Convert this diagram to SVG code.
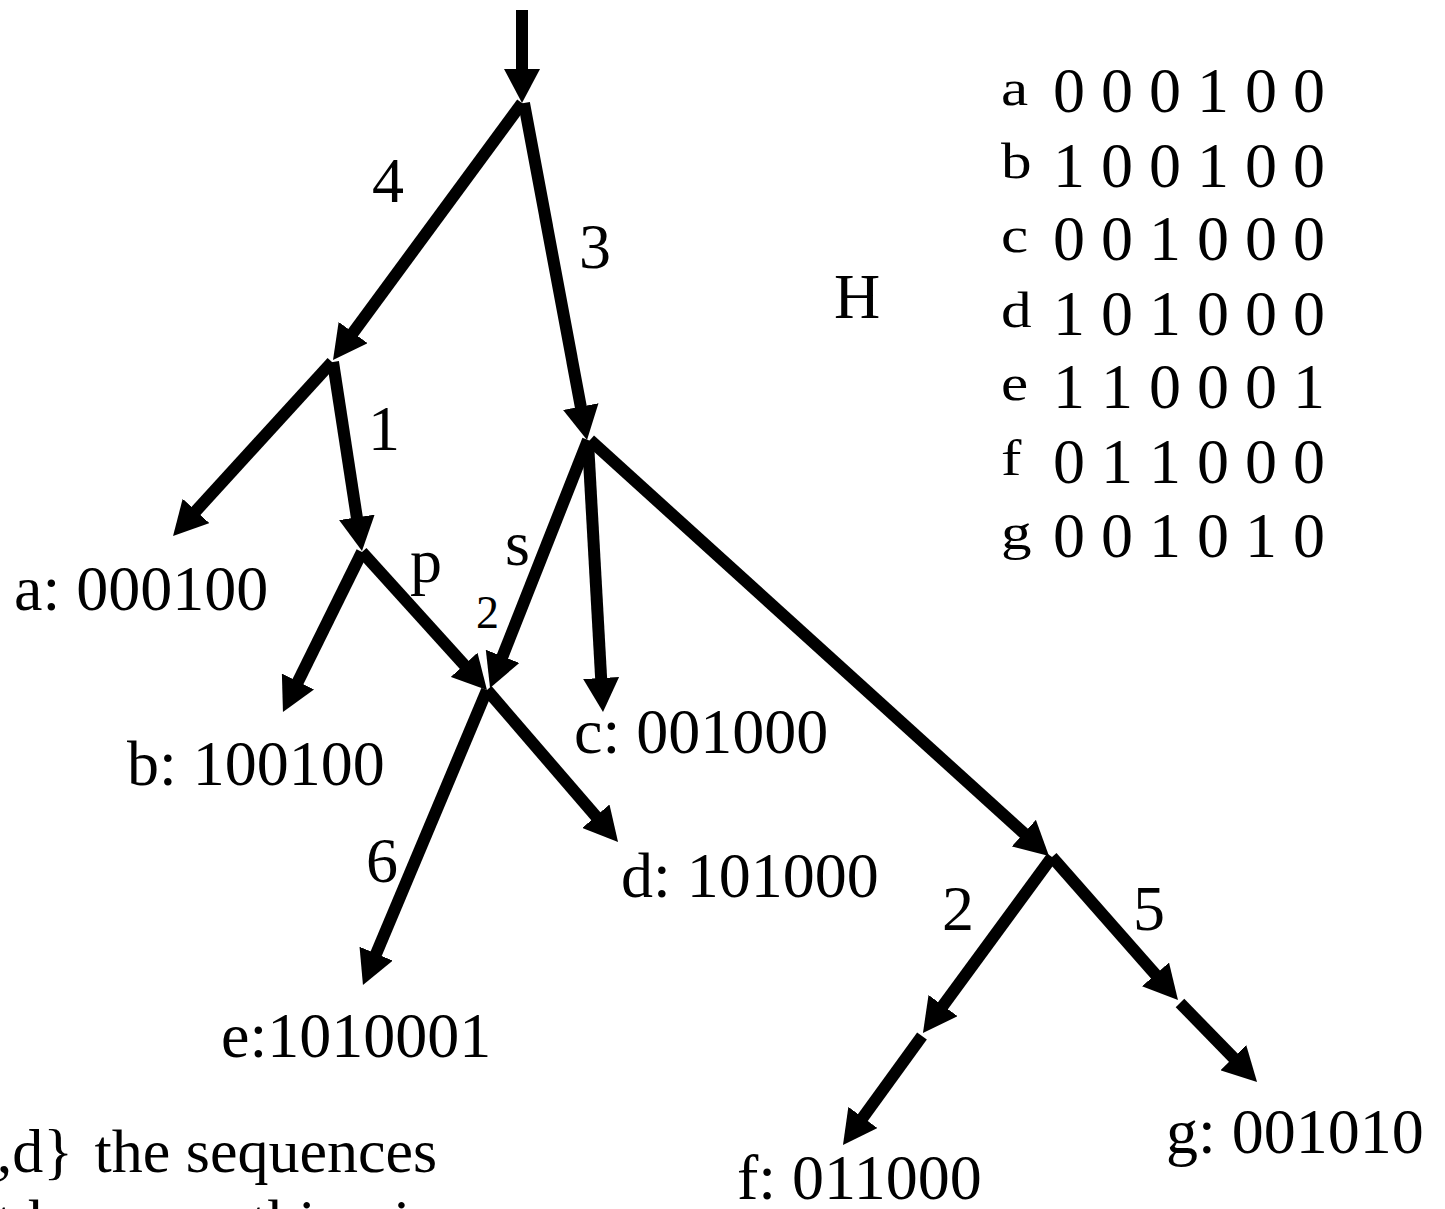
<svg xmlns="http://www.w3.org/2000/svg" width="1445" height="1209" viewBox="0 0 1445 1209">
<style>
text{font-family:"Liberation Serif","Times New Roman",serif;fill:#000}
.lbl{font-size:64px}
.sm{font-size:46px}
.let{font-size:51px}
.edge{stroke:#000;stroke-width:12;fill:none;stroke-linecap:butt;marker-end:url(#ah)}
</style>
<defs>
<marker id="ah" markerUnits="userSpaceOnUse" markerWidth="34" markerHeight="36" viewBox="0 0 34 36" refX="5" refY="18" orient="auto"><path d="M0,0 L34,18 L0,36 z" fill="#000"/></marker>
</defs>
<rect width="1445" height="1209" fill="#fff"/>
<g id="connectors">
<path class="edge" d="M522,10 L522,74"/>
<path class="edge" d="M522,103 L350.2,336.6"/>
<path class="edge" d="M524,103 L581.7,411.5"/>
<path class="edge" d="M332,362 L192.6,514.6"/>
<path class="edge" d="M333,362 L357.6,522.3"/>
<path class="edge" d="M362,552 L295.8,686"/>
<path class="edge" d="M362,552 L467.5,668.5"/>
<path class="edge" d="M487,690 L599.1,820"/>
<path class="edge" d="M487,690 L374.2,958.3"/>
<path class="edge" d="M588,440 L500.7,661"/>
<path class="edge" d="M588,442 L601.4,683"/>
<path class="edge" d="M590,440 L1027.5,836.5"/>
<path class="edge" d="M1052,857 L940.1,1009.6"/>
<path class="edge" d="M922,1036 L860,1121.5"/>
<path class="edge" d="M1052,857 L1158.8,978.2"/>
<path class="edge" d="M1180,1003 L1236.8,1061.2"/>
</g>
<g id="edge-labels">
<text class="lbl" x="372" y="202">4</text>
<text class="lbl" x="579" y="268">3</text>
<text class="lbl" x="368" y="450">1</text>
<text class="lbl" x="410" y="582">p</text>
<text class="lbl" x="505" y="565">s</text>
<text class="sm" x="476" y="628">2</text>
<text class="lbl" x="366" y="882">6</text>
<text class="lbl" x="942" y="930">2</text>
<text class="lbl" x="1133" y="930">5</text>
</g>
<g id="node-a"><text class="lbl" x="14" y="610">a: 000100</text></g>
<g id="node-b"><text class="lbl" x="127" y="785">b: 100100</text></g>
<g id="node-c"><text class="lbl" x="574" y="753">c: 001000</text></g>
<g id="node-d"><text class="lbl" x="621" y="897">d: 101000</text></g>
<g id="node-e"><text class="lbl" x="221" y="1057">e:1010001</text></g>
<g id="node-f"><text class="lbl" x="737" y="1199">f: 011000</text></g>
<g id="node-g"><text class="lbl" x="1166" y="1153">g: 001010</text></g>
<g id="matrix">
<text class="lbl" x="834" y="318">H</text>
<text class="let" transform="translate(1001,105) scale(1.2,1)">a</text>
<text class="let" transform="translate(1001,178) scale(1.2,1)">b</text>
<text class="let" transform="translate(1001,252) scale(1.2,1)">c</text>
<text class="let" transform="translate(1001,327) scale(1.2,1)">d</text>
<text class="let" transform="translate(1001,400) scale(1.2,1)">e</text>
<text class="let" transform="translate(1001,475) scale(1.2,1)">f</text>
<text class="let" transform="translate(1001,549) scale(1.2,1)">g</text>
<text class="lbl" x="1053" y="112">0 0 0 1 0 0</text>
<text class="lbl" x="1053" y="187">1 0 0 1 0 0</text>
<text class="lbl" x="1053" y="260">0 0 1 0 0 0</text>
<text class="lbl" x="1053" y="335">1 0 1 0 0 0</text>
<text class="lbl" x="1053" y="408">1 1 0 0 0 1</text>
<text class="lbl" x="1053" y="483">0 1 1 0 0 0</text>
<text class="lbl" x="1053" y="557">0 0 1 0 1 0</text>
</g>
<g id="caption">
<text style="font-size:62px" x="-150" y="1172">{a,b,c,d}<tspan dx="6"> the sequences</tspan></text>
<text style="font-size:62px" x="-144" y="1242">do not have anything in common</text>
</g>
</svg>
